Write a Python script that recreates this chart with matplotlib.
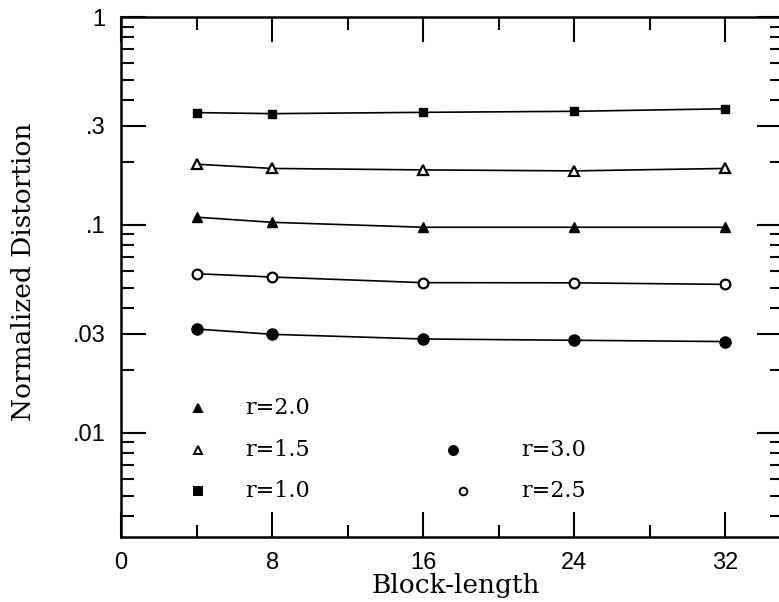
import matplotlib
matplotlib.use("Agg")
import matplotlib.pyplot as plt
from matplotlib.ticker import FixedLocator, NullFormatter

# block lengths and normalized distortion for each rate r
block_len = [4, 8, 16, 24, 32]
d_r10 = [0.347, 0.343, 0.348, 0.352, 0.362]
d_r15 = [0.196, 0.187, 0.184, 0.182, 0.187]
d_r20 = [0.109, 0.103, 0.0975, 0.0975, 0.0975]
d_r25 = [0.0583, 0.0562, 0.0528, 0.0527, 0.0518]
d_r30 = [0.0316, 0.0298, 0.0283, 0.0279, 0.0275]

y_major = [1, 0.3, 0.1, 0.03, 0.01]
y_major_labels = ["1", ".3", ".1", ".03", ".01"]
x_major = [0, 8, 16, 24, 32]
x_minor = [4, 12, 20, 28]

serif = "DejaVu Serif"
sans = "Liberation Sans"

fig = plt.figure(figsize=(7.79, 6.02), dpi=100)
ax = fig.add_axes([121 / 779, 1 - 537 / 602, (782 - 121) / 779, (537 - 17) / 602])

line_kw = dict(color="black", lw=1.2)
ax.plot(block_len, d_r10, marker="s", ms=6, mfc="black", mec="black", **line_kw)
ax.plot(block_len, d_r15, marker="^", ms=7, mfc="white", mec="black", mew=1.6, **line_kw)
ax.plot(block_len, d_r20, marker="^", ms=7, mfc="black", mec="black", **line_kw)
ax.plot(block_len, d_r25, marker="o", ms=7, mfc="white", mec="black", mew=1.6, **line_kw)
ax.plot(block_len, d_r30, marker="o", ms=8, mfc="black", mec="black", **line_kw)

ax.set_yscale("log")
ax.set_ylim(0.00316, 1)
ax.set_xlim(0, 35)

# log ticks: labelled at 1, .3, .1, .03, .01, unlabelled elsewhere
minor_y = []
for dec in [0.001, 0.01, 0.1]:
    for s in range(2, 10):
        v = round(dec * s, 6)
        if v not in y_major and 0.00316 < v < 1:
            minor_y.append(v)
ax.yaxis.set_major_locator(FixedLocator(y_major))
ax.yaxis.set_minor_locator(FixedLocator(minor_y))
ax.set_yticklabels(y_major_labels)
ax.yaxis.set_minor_formatter(NullFormatter())
ax.xaxis.set_major_locator(FixedLocator(x_major))
ax.xaxis.set_minor_locator(FixedLocator(x_minor))
ax.set_xticklabels([str(v) for v in x_major])

ax.tick_params(which="both", direction="in", top=True, right=True, width=1.5)
ax.tick_params(which="major", length=18, pad=11)
ax.tick_params(which="minor", length=9)
for lab in ax.get_xticklabels() + ax.get_yticklabels():
    lab.set_fontfamily(sans)
    lab.set_fontsize(17)
for sp in ax.spines.values():
    sp.set_linewidth(1.8)

fig.text(24 / 779, 1 - 272 / 602, "Normalized Distortion", rotation=90, ha="center",
         va="center", family=serif, fontsize=19)
fig.text(456 / 779, 1 - 593 / 602, "Block-length", ha="center", va="baseline",
         family=serif, fontsize=19)

# in-plot legend
leg1 = [("^", "black", "r=2.0"), ("^", "white", "r=1.5"), ("s", "black", "r=1.0")]
leg2 = [("o", "black", "r=3.0"), ("o", "white", "r=2.5")]
leg_y = [0.0132, 0.0083, 0.00527]
for (m, fc, txt), yy in zip(leg1, leg_y):
    ax.plot([4.1], [yy], marker=m, ms=5.5, mfc=fc, mec="black", mew=1.4, ls="none")
    ax.text(6.6, yy, txt, family=serif, fontsize=16, va="center")
for (m, fc, txt), yy, xx in zip(leg2, leg_y[1:], [17.6, 18.1]):
    ax.plot([xx], [yy], marker=m, ms=6.5 if fc == "black" else 5.5, mfc=fc,
            mec="black", mew=1.4, ls="none")
    ax.text(21.2, yy, txt, family=serif, fontsize=16, va="center")

fig.savefig("out.png", dpi=100)
